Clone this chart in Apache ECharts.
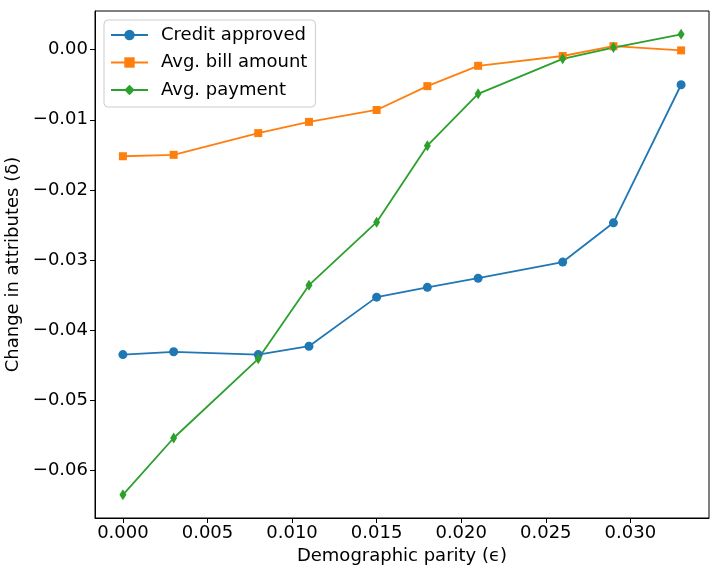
<!DOCTYPE html>
<html>
<head>
<meta charset="utf-8">
<script src="https://cdn.jsdelivr.net/npm/echarts@6/dist/echarts.min.js"></script>
<style>
  html, body { margin: 0; padding: 0; background: #fff; }
  #chart { width: 720px; height: 576px; }
</style>
</head>
<body>
<div id="chart"></div>
<script>
// x values (demographic parity)
const parity = [0, 0.003, 0.008, 0.011, 0.015, 0.018, 0.021, 0.026, 0.029, 0.033]
// change in attributes per series
const creditApproved = [-0.0435, -0.0431, -0.0435, -0.0423, -0.0353, -0.0339, -0.0326, -0.0303, -0.0247, -0.0050]
const avgBill = [-0.0152, -0.0150, -0.0119, -0.0103, -0.0086, -0.0052, -0.0023, -0.0009, 0.0005, -0.0001]
const avgPayment = [-0.0635, -0.0554, -0.0441, -0.0336, -0.0246, -0.0137, -0.0063, -0.0013, 0.0003, 0.0022]
// tick labels
const xTicks = [0, 0.005, 0.010, 0.015, 0.020, 0.025, 0.030]
const yTicks = [-0.06, -0.05, -0.04, -0.03, -0.02, -0.01, 0]

const font = 'DejaVu Sans'
const fs = 18

const toPairs = ys => parity.map((x, i) => [x, ys[i]])

const chart = echarts.init(document.getElementById('chart'), null, { renderer: 'canvas' })

const lineSeries = (name, data, color, symbol, symbolSize) => ({
  name,
  type: 'line',
  data: toPairs(data),
  symbol,
  symbolSize,
  showAllSymbol: true,
  animation: false,
  lineStyle: { color, width: 1.8 },
  itemStyle: { color },
  emphasis: { disabled: true }
})

chart.setOption({
  animation: false,
  grid: {
    left: 95, right: 11, top: 11, bottom: 58,
    containLabel: false,
    outerBoundsMode: 'none',
    show: true,
    borderColor: '#000',
    borderWidth: 1
  },
  legend: {
    orient: 'vertical',
    left: 104,
    top: 20,
    itemWidth: 37,
    itemHeight: 13,
    itemGap: 9.5,
    padding: [6, 8, 8, 6],
    backgroundColor: 'rgba(255,255,255,0.8)',
    borderColor: '#ccc',
    borderWidth: 1,
    borderRadius: 4,
    textStyle: { fontFamily: font, fontSize: fs, color: '#000', padding: [0, 0, 0, 8] },
    data: ['Credit approved', 'Avg. bill amount', 'Avg. payment']
  },
  xAxis: {
    type: 'value',
    min: -0.00165,
    max: 0.03465,
    name: 'Demographic parity (\u03f5)',
    nameLocation: 'middle',
    nameGap: 25,
    nameTextStyle: { fontFamily: font, fontSize: fs, color: '#000' },
    axisLine: { show: true, onZero: false, lineStyle: { color: '#000' } },
    axisTick: { show: true, length: 5, customValues: xTicks, lineStyle: { color: '#000' } },
    axisLabel: {
      customValues: xTicks,
      fontFamily: font, fontSize: fs, color: '#000', margin: 6,
      formatter: v => v.toFixed(3)
    },
    splitLine: { show: false }
  },
  yAxis: {
    type: 'value',
    min: -0.06681,
    max: 0.00552,
    name: 'Change in attributes (\u03b4)',
    nameLocation: 'middle',
    nameGap: 68,
    nameTextStyle: { fontFamily: font, fontSize: fs, color: '#000' },
    axisLine: { show: true, onZero: false, lineStyle: { color: '#000' } },
    axisTick: { show: true, length: 5, customValues: yTicks, lineStyle: { color: '#000' } },
    axisLabel: {
      customValues: yTicks,
      fontFamily: font, fontSize: fs, color: '#000', margin: 7,
      formatter: v => v.toFixed(2).replace('-', '\u2212')
    },
    splitLine: { show: false }
  },
  series: [
    lineSeries('Credit approved', creditApproved, '#1f77b4', 'circle', 9),
    lineSeries('Avg. bill amount', avgBill, '#ff7f0e', 'rect', 8),
    lineSeries('Avg. payment', avgPayment, '#2ca02c', 'diamond', [7, 11])
  ]
})
</script>
</body>
</html>
